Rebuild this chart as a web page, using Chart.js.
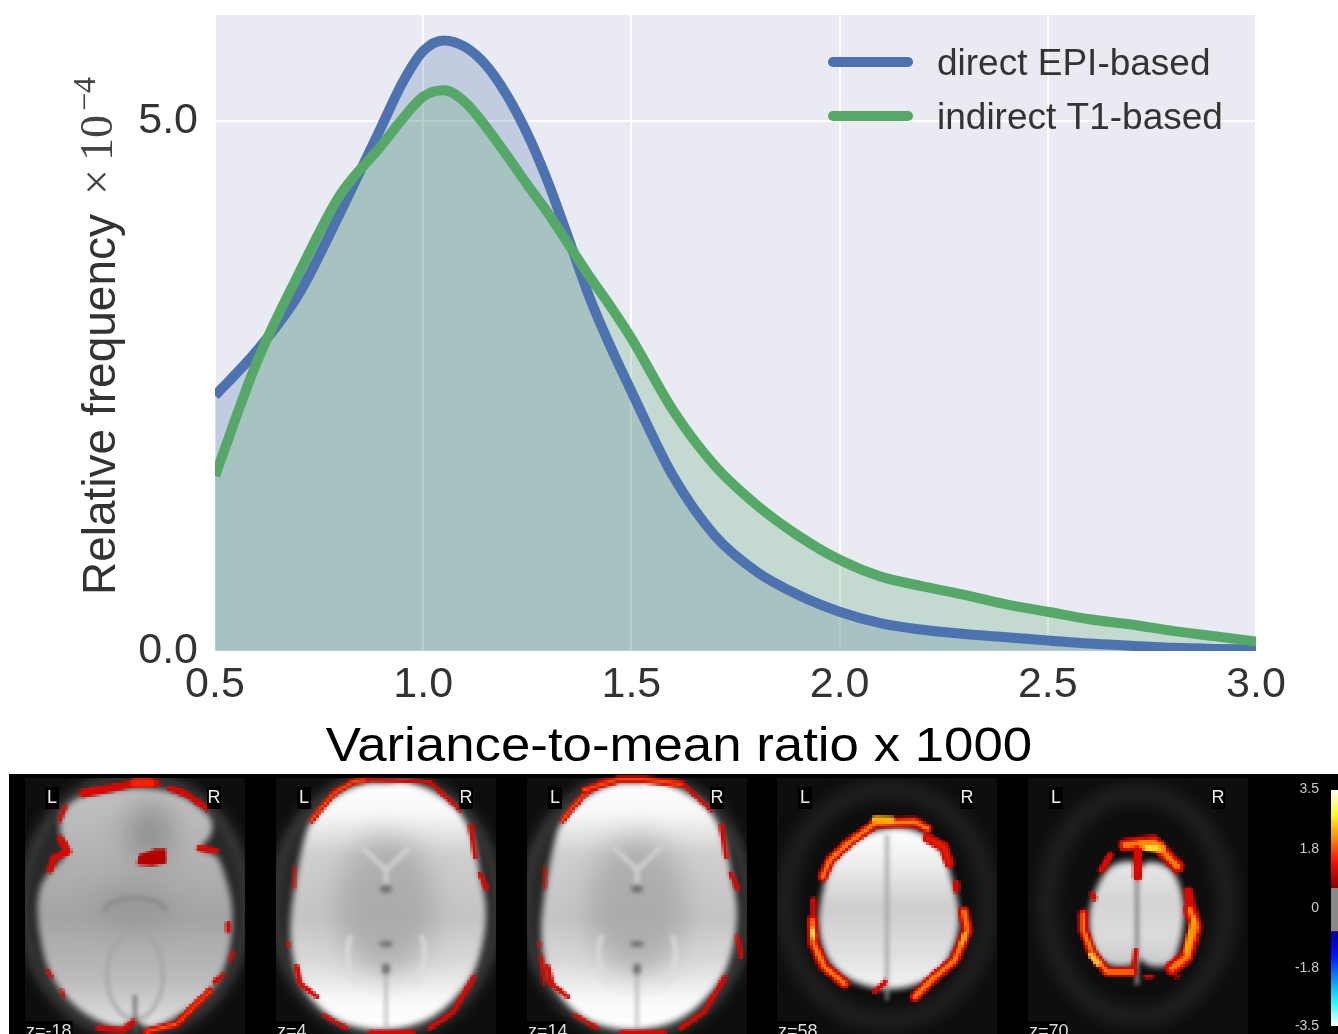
<!DOCTYPE html>
<html><head><meta charset="utf-8">
<style>
html,body{margin:0;padding:0;background:#fff;overflow:hidden;width:1338px;height:1034px}
#c{position:absolute;left:0;top:0}
#b{position:absolute;left:0;top:0;pointer-events:none}
</style>
<script src="https://cdn.jsdelivr.net/npm/chart.js@4"></script>
</head><body>
<canvas id="b" width="1338" height="1034"></canvas>
<canvas id="c" width="1338" height="774"></canvas>
<script>
const ratio   = [0.5,0.6,0.7,0.8,0.9,0.95,1.0,1.05,1.1,1.15,1.2,1.25,1.3,1.35,1.4,1.45,1.5,1.6,1.7,1.8,1.9,2.0,2.1,2.2,2.3,2.4,2.5,2.6,2.7,2.8,2.9,3.0];
const direct  = [2.41,2.83,3.36,4.13,4.95,5.36,5.66,5.76,5.7,5.53,5.25,4.88,4.42,3.88,3.33,2.87,2.45,1.65,1.09,0.75,0.53,0.37,0.26,0.2,0.16,0.13,0.1,0.07,0.05,0.03,0.02,0.015];
const indirect= [1.65,2.72,3.55,4.3,4.77,5.02,5.23,5.29,5.18,4.95,4.68,4.4,4.13,3.83,3.53,3.25,2.95,2.27,1.75,1.38,1.09,0.86,0.7,0.61,0.53,0.44,0.37,0.3,0.25,0.19,0.14,0.09];
const seriesNames = ['direct EPI-based','indirect T1-based'];
const xTicks = [0.5,1.0,1.5,2.0,2.5,3.0];
const yTicks = [0,5];
const xTitle = 'Variance-to-mean ratio x 1000';
const yTitle = 'Relative frequency';
const yExp = ['×','10','−4'];
const cbLabels = ['3.5','1.8','0','-1.8','-3.5'];
const sliceLabels = ['z=-18','z=4','z=14','z=58','z=70'];

const BLUE='#4c72b0', GREEN='#55a868';
const pts = a => a.map((v,i)=>({x:ratio[i],y:v}));

const decor = {
  id:'decor',
  afterDraw(ch){
    const g=ch.ctx; g.save();
    seriesNames.forEach((n,i)=>{
      const y=62+i*54;
      g.strokeStyle=i?GREEN:BLUE; g.lineWidth=10; g.lineCap='round';
      g.beginPath(); g.moveTo(833,y); g.lineTo(908,y); g.stroke();
      g.fillStyle='#333'; g.font='37px "Liberation Sans"'; g.textAlign='left'; g.textBaseline='alphabetic';
      g.fillText(n,937,y+13);
    });
    g.save(); g.translate(679,761); g.scale(1.1,1);
    g.fillStyle='#000'; g.font='48px "Liberation Sans"'; g.textAlign='center';
    g.fillText(xTitle,0,0); g.restore();
    g.save(); g.translate(115,595); g.rotate(-Math.PI/2);
    g.textAlign='left'; g.fillStyle='#333'; g.font='46px "Liberation Sans"';
    g.fillText(yTitle,0,0);
    g.font='46px "Liberation Serif"'; g.fillStyle='#444';
    g.fillText(yExp[0],400,-3);
    g.fillText(yExp[1],434,-3);
    g.font='32px "Liberation Serif"';
    g.fillText(yExp[2],484,-20);
    g.restore();
    g.restore();
  }
};

new Chart(document.getElementById('c'),{
  type:'line',
  data:{datasets:[
    {label:seriesNames[0],data:pts(direct),borderColor:BLUE,backgroundColor:'rgba(76,114,176,0.25)',borderWidth:10,fill:'origin',pointRadius:0,cubicInterpolationMode:'monotone',order:2},
    {label:seriesNames[1],data:pts(indirect),borderColor:GREEN,backgroundColor:'rgba(85,168,104,0.25)',borderWidth:10,fill:'origin',pointRadius:0,cubicInterpolationMode:'monotone',order:1}
  ]},
  options:{
    responsive:false,animation:false,devicePixelRatio:1,
    layout:{padding:{top:15,right:82,left:0,bottom:0}},
    plugins:{legend:{display:false},tooltip:{enabled:false},
      filler:{drawTime:'beforeDatasetsDraw'}},
    scales:{
      x:{type:'linear',min:0.5,max:3.0,
        afterBuildTicks:s=>{s.ticks=xTicks.map(v=>({value:v}));},
        afterFit:s=>{s.height=123;s.paddingLeft=0;s.paddingRight=0;},
        grid:{color:'#fff',lineWidth:2,drawTicks:false},border:{display:false},
        ticks:{color:'#333',font:{family:'"Liberation Sans"',size:43},padding:8,maxRotation:0,autoSkip:false,callback:v=>v.toFixed(1)}},
      y:{type:'linear',min:0,max:6,
        afterBuildTicks:s=>{s.ticks=yTicks.map(v=>({value:v}));},
        afterFit:s=>{s.width=215;s.paddingTop=0;s.paddingBottom=0;},
        grid:{color:'#fff',lineWidth:2,drawTicks:false},border:{display:false},
        ticks:{color:'#333',font:{family:'"Liberation Sans"',size:43},padding:17,autoSkip:false,callback:v=>v.toFixed(1)}}
    }
  },
  plugins:[{id:'bg',beforeDraw(ch){const a=ch.chartArea;ch.ctx.fillStyle='#eaeaf2';ch.ctx.fillRect(a.left,a.top,a.right-a.left,a.bottom-a.top);}},decor]
});

/* ---------- brain slices strip (decorative picture under the chart) ---------- */
const B=document.getElementById('b').getContext('2d');
B.fillStyle='#000';B.fillRect(9,774,1329,260);
const PX=2.7;
const lo=document.createElement('canvas');lo.width=Math.ceil(1338/PX);lo.height=Math.ceil(1034/PX);
const L=lo.getContext('2d');
function smooth(c,p){
  c.beginPath();const n=p.length;
  for(let i=0;i<n;i++){const a=p[i],b=p[(i+1)%n];const m=[(a[0]+b[0])/2,(a[1]+b[1])/2];
    if(i==0){const z=p[n-1];c.moveTo((z[0]+a[0])/2,(z[1]+a[1])/2);}
    c.quadraticCurveTo(a[0],a[1],m[0],m[1]);}
  c.closePath();
}
const map13=a=>a.map(q=>[q[0]/3,770+q[1]/3]);
const map2=a=>a.map(q=>[770+q[0]/2.76,770+q[1]/3]);
const shift=(a,dx)=>a.map(q=>[q[0]+dx,q[1]]);

const o1=map13([[240,75],[330,60],[420,50],[530,65],[600,110],[640,150],[635,200],[590,240],[650,250],[670,300],[700,400],[695,520],[670,610],[620,680],[500,760],[440,780],[400,740],[370,780],[280,750],[200,690],[140,600],[115,480],[110,390],[130,320],[210,250],[175,190],[185,120]]);
const o2=map13([[930,150],[1010,70],[1100,35],[1160,40],[1210,30],[1300,60],[1380,120],[1420,200],[1440,310],[1465,430],[1440,570],[1400,650],[1300,750],[1170,785],[1040,770],[960,720],[890,630],[865,490],[885,340],[910,210]]);
const o3=shift(o2,251);
const o4=map2([[300,175],[400,170],[480,240],[500,320],[525,420],[520,500],[480,600],[400,650],[320,660],[230,640],[160,580],[130,480],[140,380],[165,280],[230,210]]);
const o5=map2([[940,280],[1010,270],[1020,300],[1040,270],[1110,290],[1140,370],[1145,450],[1130,530],[1110,590],[1040,590],[1020,560],[1000,590],[930,590],[890,540],[875,440],[900,350]]);

const panels=[
 {kind:1,x:25, cx:135,cy:905,rx:112,ry:128,o:o1},
 {kind:2,x:276,cx:386,cy:905,rx:112,ry:128,o:o2},
 {kind:2,x:527,cx:637,cy:905,rx:112,ry:128,o:o3},
 {kind:4,x:777,cx:887,cy:905,rx:92,ry:112,o:o4},
 {kind:5,x:1028,cx:1137,cy:905,rx:80,ry:108,o:o5}
];
function vfill(p,stops,top,bottom){
  const g=B.createLinearGradient(0,top,0,bottom);
  stops.forEach(s=>g.addColorStop(s[0],s[1]));
  B.fillStyle=g;smooth(B,p.o);B.fill();
}
panels.forEach(p=>{
  B.fillStyle='#0e0e0e';B.fillRect(p.x,778,220,256);
  B.save();B.beginPath();B.rect(p.x,778,220,256);B.clip();
  const big=p.kind<3;
  B.filter='blur(7px)';B.strokeStyle=big?'#4a4a4a':'#1f1f1f';B.lineWidth=big?12:20;
  B.beginPath();B.ellipse(p.cx,p.cy,p.rx+(big?-2:10),p.ry+(big?0:4),0,0,7);B.stroke();
  if(big){B.fillStyle='#2c2c2c';B.beginPath();B.ellipse(p.cx,p.cy,p.rx-6,p.ry-6,0,0,7);B.fill();}
  B.filter='blur(3px)';
  if(p.kind==1) vfill(p,[[0,'#c4c4c4'],[0.35,'#b0b0b0'],[0.55,'#a4a4a4'],[0.8,'#bcbcbc'],[1,'#e4e4e4']],780,1030);
  if(p.kind==2) vfill(p,[[0,'#ffffff'],[0.14,'#f8f8f8'],[0.3,'#cfcfcf'],[0.55,'#c4c4c4'],[0.72,'#d8d8d8'],[0.88,'#fafafa'],[1,'#ffffff']],778,1032);
  if(p.kind==4) vfill(p,[[0,'#ffffff'],[0.22,'#efefef'],[0.5,'#cdcdcd'],[0.78,'#e0e0e0'],[1,'#f4f4f4']],825,990);
  if(p.kind==5) vfill(p,[[0,'#e8e8e8'],[0.4,'#d4d4d4'],[0.7,'#dcdcdc'],[1,'#c8c8c8']],860,968);
  B.filter='blur(14px)';
  if(p.kind==2){B.fillStyle='rgba(150,150,150,.55)';B.beginPath();B.ellipse(p.cx,905,48,70,0,0,7);B.fill();}
  if(p.kind==1){B.fillStyle='rgba(120,120,120,.6)';B.beginPath();B.ellipse(150,832,24,30,0,0,7);B.fill();
    B.fillStyle='rgba(130,130,130,.4)';B.beginPath();B.ellipse(135,905,38,20,0,0,7);B.fill();}
  B.filter='blur(2px)';
  if(p.kind==1){
    B.strokeStyle='#858585';B.lineWidth=3;
    B.beginPath();B.ellipse(135,912,31,14,0,Math.PI,0);B.stroke();
    B.beginPath();B.ellipse(135,975,28,44,0,0,7);B.strokeStyle='#a2a2a2';B.stroke();
    B.strokeStyle='#606060';B.lineWidth=3;B.beginPath();B.moveTo(135,995);B.lineTo(135,1032);B.stroke();
  }else if(p.kind==2){
    B.strokeStyle='#cfcfcf';B.lineWidth=5;
    B.beginPath();B.moveTo(p.cx-24,847);B.lineTo(p.cx,870);B.lineTo(p.cx+24,847);B.moveTo(p.cx,870);B.lineTo(p.cx,885);B.stroke();
    B.fillStyle='#707070';B.beginPath();B.ellipse(p.cx,889,6,4,0,0,7);B.fill();
    B.beginPath();B.ellipse(p.cx,944,7,3,0,0,7);B.fill();
    B.beginPath();B.ellipse(p.cx,969,4,6,0,0,7);B.fill();
    B.strokeStyle='#9a9a9a';B.lineWidth=2;B.beginPath();B.moveTo(p.cx,975);B.lineTo(p.cx,1030);B.stroke();
    B.strokeStyle='#dcdcdc';B.lineWidth=4;
    B.beginPath();B.moveTo(p.cx-35,935);B.quadraticCurveTo(p.cx-45,960,p.cx-28,985);B.stroke();
    B.beginPath();B.moveTo(p.cx+35,935);B.quadraticCurveTo(p.cx+45,960,p.cx+28,985);B.stroke();
  }else if(p.kind==4){
    B.strokeStyle='#9a9a9a';B.lineWidth=3;B.beginPath();B.moveTo(p.cx,835);B.lineTo(p.cx,1000);B.stroke();
  }else{
    B.strokeStyle='#8a8a8a';B.lineWidth=4;B.beginPath();B.moveTo(p.cx,865);B.lineTo(p.cx,985);B.stroke();
  }
  B.restore();B.filter='none';
});

const red2='#d80800', org='#ff7a00', yel='#ffe040';
function seg(pts,w,col){L.strokeStyle=col;L.lineWidth=w/PX;L.lineJoin='round';L.lineCap='round';
  L.beginPath();pts.forEach((q,i)=>i?L.lineTo(q[0]/PX,q[1]/PX):L.moveTo(q[0]/PX,q[1]/PX));L.stroke();}
function hot(a,m,w,hotCol){seg(m(a),w+1,red2); if(hotCol) seg(m(a),w*0.45,hotCol);}
function blob(a,m,col){L.fillStyle=col;L.beginPath();m(a).forEach((q,i)=>i?L.lineTo(q[0]/PX,q[1]/PX):L.moveTo(q[0]/PX,q[1]/PX));L.closePath();L.fill();}

hot([[250,70],[330,55],[400,42],[470,40]],map13,7);seg(map13([[405,38],[450,38]]),9,'#ff2000');
hot([[510,55],[560,72],[620,115]],map13,5);
hot([[150,300],[160,265],[205,245],[180,205]],map13,6);
hot([[195,110],[180,150]],map13,3);
blob([[410,285],[415,255],[465,235],[498,235],[500,280],[455,288]],map13,'#b40000');
hot([[598,235],[648,243]],map13,5);
hot([[295,775],[370,782],[400,755]],map13,5);
hot([[440,785],[530,762],[630,662]],map13,6,'#ff5000');
hot([[684,460],[684,482]],map13,4);hot([[143,603],[155,622]],map13,3);hot([[690,572],[698,548]],map13,3);hot([[645,635],[670,615]],map13,4);hot([[185,660],[192,680]],map13,2);
function rim(dx,extra){
  const m=a=>shift(map13(a),dx);
  hot([[935,150],[1000,70],[1060,35],[1100,30]],m,5,'#ff6000');
  hot([[1100,28],[1290,36],[1380,120]],m,3);
  hot([[1412,165],[1425,260]],m,4);hot([[882,290],[882,355]],m,2);hot([[1440,312],[1460,355]],m,4);
  hot([[890,590],[900,640],[950,680]],m,4);hot([[970,735],[1040,775]],m,3);
  hot([[1110,787],[1240,787]],m,3);hot([[1290,775],[1360,725],[1422,620]],m,4);hot([[865,520],[865,530]],m,2);
  if(extra){hot([[1000,60],[1100,28],[1180,28],[1290,42]],m,6,'#ff5000');hot([[870,560],[880,640]],m,3);hot([[1460,500],[1470,560]],m,3);}
}
rim(0,false);rim(251,true);
hot([[145,320],[165,270],[215,220],[290,160],[400,155],[435,175]],map2,9,org);seg(map2([[290,148],[335,150]]),7,'#ffb000');
hot([[435,205],[480,230],[495,280]],map2,9,'#e02000');
hot([[515,340],[515,358]],map2,6);hot([[120,390],[120,430]],map2,5);
hot([[118,450],[120,520],[150,590],[205,640]],map2,10,org);seg(map2([[118,480],[120,500]]),5,yel);
hot([[535,425],[545,480],[510,570],[450,625],[400,680]],map2,10,org);seg(map2([[538,490],[530,520]]),4,'#ffb000');
hot([[290,665],[318,635]],map2,4);
hot([[915,300],[940,255]],map2,6);
hot([[980,225],[1060,215],[1125,290]],map2,12,org);seg(map2([[1030,225],[1080,235]]),10,'#ff9000');seg(map2([[1040,232],[1070,235]]),5,yel);
hot([[1015,240],[1015,320]],map2,8);
hot([[1155,365],[1160,400]],map2,9);hot([[890,372],[895,385]],map2,5);
hot([[865,430],[865,480],[890,550],[930,605],[1000,605]],map2,9,org);seg(map2([[885,555],[905,580]]),5,'#ffc040');
hot([[1160,420],[1175,470],[1150,560],[1110,595]],map2,13,org);seg(map2([[1170,450],[1150,545]]),6,'#ffa000');
hot([[1010,540],[1005,590]],map2,4);hot([[1035,620],[1055,620]],map2,3);hot([[1120,622],[1130,620]],map2,2);

B.imageSmoothingEnabled=false;
B.drawImage(lo,0,0,lo.width*PX,lo.height*PX);

const lx=[52,214,304,466,555,717,805,967,1056,1218];
B.font='18px "Liberation Sans"';B.textAlign='center';B.textBaseline='middle';
lx.forEach((x,i)=>{const t=i%2?'R':'L';B.fillStyle='#000';B.fillRect(x-7,787,14,22);B.fillStyle='#eee';B.fillText(t,x,798);});
B.font='18px "Liberation Sans"';B.textAlign='left';B.textBaseline='alphabetic';
sliceLabels.forEach((t,i)=>{const x=panels[i].x;B.fillStyle='#000';B.fillRect(x,1021,t.length*9.5,13);B.fillStyle='#ddd';B.fillText(t,x+1,1037);});
const cb=B.createLinearGradient(0,790,0,1026);
[[0,'#fff'],[0.1,'#ffff20'],[0.2,'#ff9000'],[0.3,'#ff1000'],[0.415,'#800000'],[0.416,'#888'],[0.598,'#888'],[0.6,'#000090'],[0.7,'#0010ff'],[0.8,'#0090ff'],[0.9,'#20ffff'],[1,'#fff']].forEach(s=>cb.addColorStop(s[0],s[1]));
B.fillStyle=cb;B.fillRect(1331,790,7,236);
B.fillStyle='#ccc';B.font='14px "Liberation Sans"';B.textAlign='right';B.textBaseline='middle';
[789,849,908,968,1026].forEach((y,i)=>B.fillText(cbLabels[i],1319,y));
</script>
</body></html>
